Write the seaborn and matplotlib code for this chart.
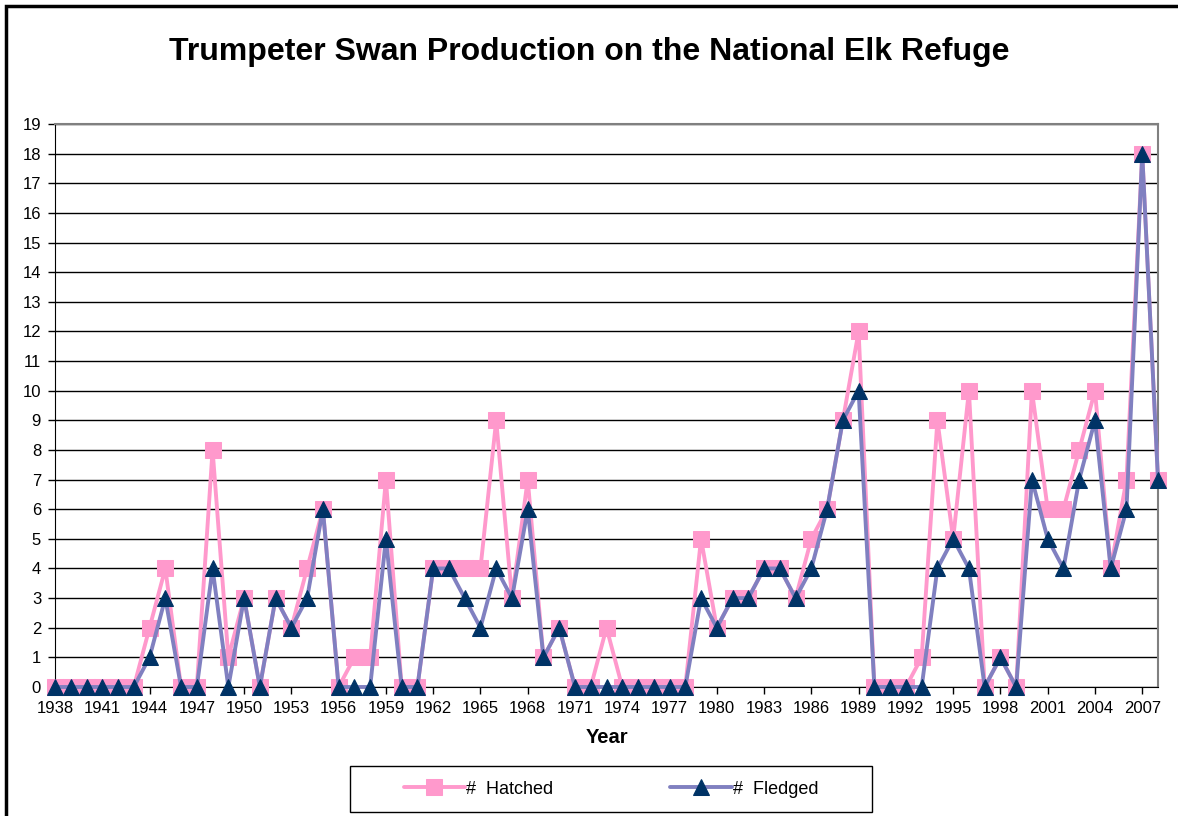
import pandas as pd
import matplotlib
matplotlib.use('Agg')
import matplotlib.pyplot as plt
import seaborn as sns
from matplotlib.patches import Rectangle

# Dados
anos = list(range(1938, 2009))
chocados = [0, 0, 0, 0, 0, 0, 2, 4, 0, 0, 8, 1, 3, 0, 3, 2, 4, 6, 0, 1,
            1, 7, 0, 0, 4, 4, 4, 4, 9, 3, 7, 1, 2, 0, 0, 2, 0, 0, 0, 0,
            0, 5, 2, 3, 3, 4, 4, 3, 5, 6, 9, 12, 0, 0, 0, 1, 9, 5, 10, 0,
            1, 0, 10, 6, 6, 8, 10, 4, 7, 18, 7]
voados = [0, 0, 0, 0, 0, 0, 1, 3, 0, 0, 4, 0, 3, 0, 3, 2, 3, 6, 0, 0,
          0, 5, 0, 0, 4, 4, 3, 2, 4, 3, 6, 1, 2, 0, 0, 0, 0, 0, 0, 0,
          0, 3, 2, 3, 3, 4, 4, 3, 4, 6, 9, 10, 0, 0, 0, 0, 4, 5, 4, 0,
          1, 0, 7, 5, 4, 7, 9, 4, 6, 18, 7]
rotulos_x = list(range(1938, 2009, 3))

df = pd.DataFrame({'ano': anos, 'chocados': chocados, 'voados': voados})

sns.set_style('white')
plt.rcParams['font.family'] = ['Liberation Sans', 'DejaVu Sans']
plt.rcParams['text.color'] = 'black'

fig = plt.figure(figsize=(11.78, 8.16), dpi=100)
# área do gráfico em pixels: x 55..1158, y 124..687
ax = fig.add_axes([55 / 1178, 1 - 687 / 816, (1158 - 55) / 1178, (687 - 124) / 816])

sns.lineplot(data=df, x='ano', y='chocados', ax=ax, color='#FF99CC', linewidth=2.8,
             marker='s', markersize=11, markerfacecolor='#FF99CC',
             markeredgecolor='#FF99CC', label='#  Hatched', zorder=3, clip_on=False)
sns.lineplot(data=df, x='ano', y='voados', ax=ax, color='#8080C0', linewidth=2.8,
             marker='^', markersize=11, markerfacecolor='#003366',
             markeredgecolor='#003366', label='#  Fledged', zorder=4, clip_on=False)

ax.set_xlim(1938, 2008)
ax.set_ylim(0, 19)
ax.set_yticks(range(0, 20))
ax.set_xticks(rotulos_x)
ax.set_xticklabels([str(a) for a in rotulos_x])
ax.tick_params(axis='both', labelsize=12, length=5, width=1, pad=5, direction='out',
               color='black', labelcolor='black', bottom=True, left=True)
ax.yaxis.grid(True, color='black', lw=1)
ax.set_axisbelow(True)
for lado in ['top', 'right']:
    ax.spines[lado].set_color('#808080')
    ax.spines[lado].set_linewidth(1.5)
for lado in ['left', 'bottom']:
    ax.spines[lado].set_color('black')
ax.set_xlabel('Year', fontsize=14.5, fontweight='bold', color='black', labelpad=9)
ax.set_ylabel('')
ax.get_legend().remove()

fig.text(0.5, 1 - 52 / 816, 'Trumpeter Swan Production on the National Elk Refuge',
         fontsize=23, fontweight='bold', color='black', ha='center', va='center')

handles, labels = ax.get_legend_handles_labels()
leg = fig.legend(handles, labels, loc='center', bbox_to_anchor=(611 / 1178, 1 - 789 / 816),
                 ncol=2, frameon=False, fontsize=13, labelcolor='black',
                 columnspacing=6.5, handlelength=3.4, handletextpad=0.05)

# caixa da legenda
fig.patches.append(Rectangle((350 / 1178, 1 - 812 / 816), 522 / 1178, 46 / 816,
                             transform=fig.transFigure, fill=False,
                             edgecolor='black', lw=1))
# borda externa do gráfico
fig.patches.append(Rectangle((6 / 1178, -0.05), 1.2, 1 - 6 / 816 + 0.05,
                             transform=fig.transFigure, fill=False,
                             edgecolor='black', lw=2.5))

fig.savefig('out.png', dpi=100)
